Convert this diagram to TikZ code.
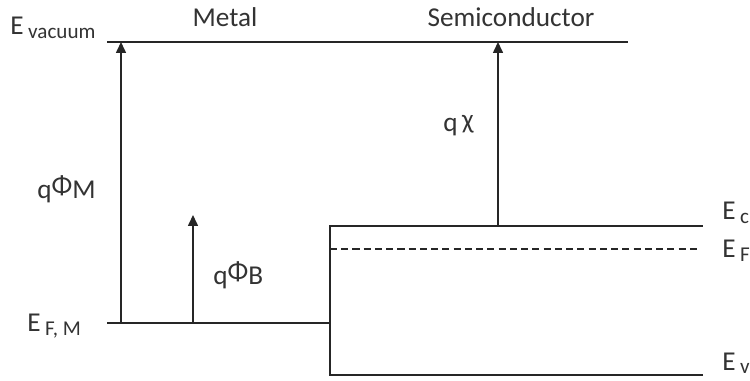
\documentclass[tikz,border=0pt]{standalone}
\usepackage{fontspec}
\setmainfont{Carlito}
\usetikzlibrary{arrows.meta}
\tikzset{
  lvl/.style={draw=black!85,line width=.9pt},
  lvld/.style={draw=black!85,line width=.8pt,dash pattern=on 4pt off 2.4pt},
  up/.style={-{Triangle[length=2.2mm,width=2mm]},line width=.9pt,draw=black!85},
  lb/.style={font=\fontsize{15.5}{17}\selectfont,text=black!80,inner sep=0pt},
}
\newcommand{\lsub}[1]{\,\raisebox{-.3ex}{\fontsize{12}{13}\selectfont #1}}

\begin{document}
\begin{tikzpicture}[x=0.02cm,y=-0.02cm]
\useasboundingbox (0,0) rectangle (750,381);
% levels of the metal and of the semiconductor
\coordinate (vac0) at (107,42);  \coordinate (vac1) at (628,42);
\coordinate (fm0) at (107,323);  \coordinate (fm1) at (330,323);
\coordinate (ec0) at (330,226);  \coordinate (ec1) at (703,226);
\coordinate (ef0) at (330,249);  \coordinate (ef1) at (700,249);
\coordinate (ev0) at (330,375);  \coordinate (ev1) at (703,375);
\draw[lvl] (vac0) -- (vac1);
\draw[lvl] (fm0) -- (fm1);
\draw[lvl] (ev1) -- (ev0) -- (ec0) -- (ec1);
\draw[lvld] (ef0) -- (ef1);
% energy differences
\coordinate (m0) at (121,323);  \coordinate (m1) at (121,42);
\coordinate (b0) at (193,323);  \coordinate (b1) at (193,215);
\coordinate (s0) at (498,226);  \coordinate (s1) at (498,42);
\draw[up] (m0) -- (m1);
\draw[up] (b0) -- (b1);
\draw[up] (s0) -- (s1);
% labels
\node[lb,anchor=base west] (tvac) at (10,35) {E\lsub{vacuum}};
\node[lb,anchor=base] (tmet) at (225,27) {Metal};
\node[lb,anchor=base] (tsem) at (511,27) {Semiconductor};
\node[lb,anchor=base west] (tphm) at (37,199) {q\raisebox{.35ex}{Φ}M};
\node[lb,anchor=base west] (tphb) at (213,285) {q\raisebox{.35ex}{Φ}B};
\node[lb,anchor=base west] (tchi) at (443,132) {q\,\raisebox{.3ex}{χ}};
\node[lb,anchor=base west] (tfm) at (27,332) {E\lsub{F, M}};
\node[lb,anchor=base west] (tec) at (722,220) {E\lsub{c}};
\node[lb,anchor=base west] (tef) at (722,258) {E\lsub{F}};
\node[lb,anchor=base west] (tev) at (722,370) {E\lsub{v}};
\end{tikzpicture}
\end{document}
